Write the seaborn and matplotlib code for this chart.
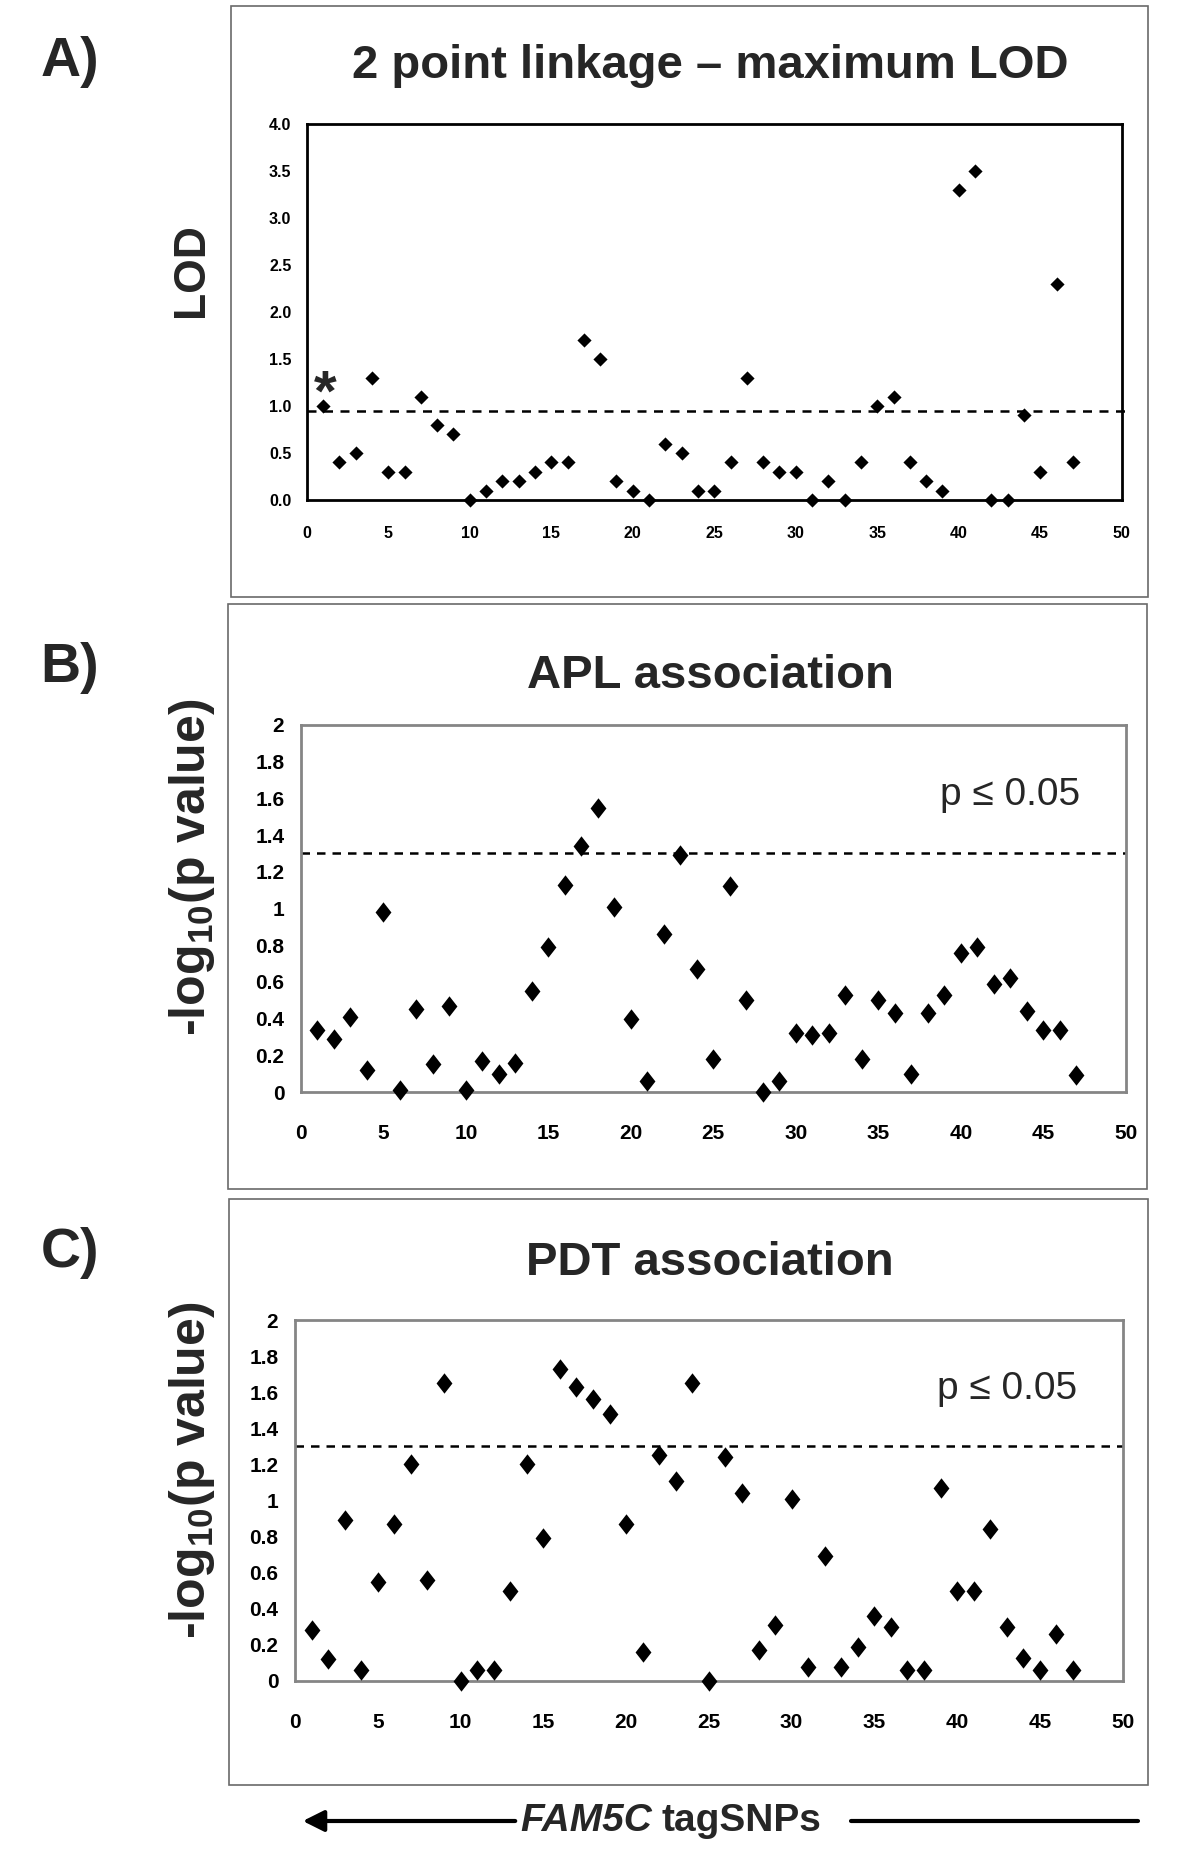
import numpy as np
import pandas as pd
import seaborn as sns
import matplotlib.pyplot as plt
from matplotlib.path import Path
from matplotlib.patches import Rectangle, FancyArrowPatch
from matplotlib.lines import Line2D
from matplotlib.ticker import MultipleLocator, FuncFormatter

# ---------------------------------------------------------------- data
snp = list(range(1, 48))

lod = [1.0, 0.4, 0.5, 1.3, 0.3, 0.3, 1.1, 0.8, 0.7, 0.0,
       0.1, 0.2, 0.2, 0.3, 0.4, 0.4, 1.7, 1.5, 0.2, 0.1,
       0.0, 0.6, 0.5, 0.1, 0.1, 0.4, 1.3, 0.4, 0.3, 0.3,
       0.0, 0.2, 0.0, 0.4, 1.0, 1.1, 0.4, 0.2, 0.1, 3.3,
       3.5, 0.0, 0.0, 0.9, 0.3, 2.3, 0.4]

apl = [0.34, 0.29, 0.41, 0.12, 0.98, 0.01, 0.45, 0.15, 0.47, 0.01,
       0.17, 0.10, 0.16, 0.55, 0.79, 1.13, 1.34, 1.55, 1.01, 0.40,
       0.06, 0.86, 1.29, 0.67, 0.18, 1.12, 0.50, 0.00, 0.06, 0.32,
       0.31, 0.32, 0.53, 0.18, 0.50, 0.43, 0.10, 0.43, 0.53, 0.76,
       0.79, 0.59, 0.62, 0.44, 0.34, 0.34, 0.09]

pdt = [0.28, 0.12, 0.89, 0.06, 0.55, 0.87, 1.20, 0.56, 1.65, 0.00,
       0.06, 0.06, 0.50, 1.20, 0.79, 1.73, 1.63, 1.56, 1.48, 0.87,
       0.16, 1.25, 1.11, 1.65, 0.00, 1.24, 1.04, 0.17, 0.31, 1.01,
       0.08, 0.69, 0.08, 0.19, 0.36, 0.30, 0.06, 0.06, 1.07, 0.50,
       0.50, 0.84, 0.30, 0.13, 0.06, 0.26, 0.06]

lod_cut = 0.95
p_cut = 1.3

panel_tags = ['A)', 'B)', 'C)']
panel_titles = ['2 point linkage \u2013 maximum LOD', 'APL association', 'PDT association']

# ---------------------------------------------------------------- style
W, H = 1200, 1859
sns.set_style("white")
plt.rcParams['font.family'] = ['Liberation Sans', 'DejaVu Sans']
plt.rcParams['font.weight'] = 'bold'
plt.rcParams['mathtext.fontset'] = 'custom'
plt.rcParams['mathtext.rm'] = 'Liberation Sans:bold'
plt.rcParams['mathtext.bf'] = 'Liberation Sans:bold'

fig = plt.figure(figsize=(W / 100, H / 100), dpi=100)


def fx(px):
    return px / W


def fy(py):
    return 1 - py / H


def box(l, t, r, b):
    return [fx(l), fy(b), (r - l) / W, (b - t) / H]


df = pd.DataFrame({'snp': snp, 'lod': lod, 'apl': apl, 'pdt': pdt})

# panel frames
for l, t, r, b in [(231, 6, 1148, 597), (228, 604, 1147, 1189), (229, 1199, 1148, 1785)]:
    fig.add_artist(Rectangle((fx(l), fy(b)), (r - l) / W, (b - t) / H, fill=False,
                             ec='#6a6a6a', lw=1.2, transform=fig.transFigure))

# ---------------------------------------------------------------- A) LOD
axA = fig.add_axes(box(306.7, 124, 1121.7, 500))
sns.scatterplot(data=df, x='snp', y='lod', ax=axA, marker='D', s=52, color='black',
                edgecolor='black', linewidth=0, clip_on=False, zorder=3)
axA.axhline(lod_cut, xmin=0, xmax=1.013, color='black', lw=1.8, ls=(0, (3.6, 3.0)), clip_on=False)
axA.set_xlim(0, 50)
axA.set_ylim(0, 4)
axA.xaxis.set_major_locator(MultipleLocator(5))
axA.yaxis.set_major_locator(MultipleLocator(0.5))
axA.yaxis.set_major_formatter(FuncFormatter(lambda v, p: f'{v:.1f}'))
for sp in axA.spines.values():
    sp.set_color('black')
    sp.set_linewidth(2)
axA.tick_params(axis='both', direction='out', length=5, width=1.3, colors='black', labelsize=11.5)
axA.tick_params(axis='x', pad=14)
axA.tick_params(axis='y', pad=6)
axA.set_xlabel('')
axA.set_ylabel('')
axA.text(1.15, 0.95, '*', ha='center', va='baseline', fontsize=42)

# ---------------------------------------------------------------- B) / C) association
diamond = Path([(0, -1), (0.78, 0), (0, 1), (-0.78, 0), (0, -1)],
               [Path.MOVETO, Path.LINETO, Path.LINETO, Path.LINETO, Path.CLOSEPOLY])

axB = fig.add_axes(box(301, 725, 1125.7, 1092))
axC = fig.add_axes(box(295, 1320, 1122.7, 1681))
for ax, col in [(axB, 'apl'), (axC, 'pdt')]:
    sns.scatterplot(data=df, x='snp', y=col, ax=ax, marker=diamond, s=215, color='black',
                    edgecolor='black', linewidth=0, clip_on=False, zorder=3)
    ax.axhline(p_cut, color='black', lw=1.8, ls=(0, (3.4, 2.8)), clip_on=False)
    ax.set_xlim(0, 50)
    ax.set_ylim(0, 2)
    ax.xaxis.set_major_locator(MultipleLocator(5))
    ax.yaxis.set_major_locator(MultipleLocator(0.2))
    ax.yaxis.set_major_formatter(FuncFormatter(lambda v, p: f'{round(v, 1):g}'))
    for sp in ax.spines.values():
        sp.set_color('#858585')
        sp.set_linewidth(2)
    ax.tick_params(axis='both', direction='out', length=5, width=1.3, colors='#707070',
                   labelcolor='black', labelsize=15)
    ax.tick_params(axis='x', pad=18)
    ax.tick_params(axis='y', pad=7)
    ax.set_xlabel('')
    ax.set_ylabel('')
    ax.text(43, 1.62, 'p \u2264 0.05', ha='center', va='center', fontsize=28,
            fontweight='normal', family=['Liberation Sans', 'DejaVu Sans'])

# ---------------------------------------------------------------- labels
for tag, ty in zip(panel_tags, [62, 668, 1253]):
    fig.text(fx(70), fy(ty), tag, ha='center', va='center', fontsize=40)
for title, ty in zip(panel_titles, [66, 676, 1263]):
    fig.text(fx(710), fy(ty), title, ha='center', va='center', fontsize=34)

fig.text(fx(191), fy(270), 'LOD', rotation=90, ha='center', va='center', fontsize=32)
ylab = r'-log$_{\mathbf{10}}$(p value)'
fig.text(fx(192), fy(867), ylab, rotation=90, ha='center', va='center', fontsize=36)
fig.text(fx(192), fy(1470), ylab, rotation=90, ha='center', va='center', fontsize=36)

# bottom arrow
fig.add_artist(FancyArrowPatch((fx(518), fy(1821)), (fx(300), fy(1821)), transform=fig.transFigure,
                               arrowstyle='-|>', mutation_scale=32, lw=3, color='black'))
fig.add_artist(Line2D([fx(851), fx(1138)], [fy(1821), fy(1821)], transform=fig.transFigure,
                      color='black', lw=3))
fig.text(fx(652), fy(1821), 'FAM5C', style='italic', ha='right', va='center', fontsize=28)
fig.text(fx(662), fy(1821), 'tagSNPs', ha='left', va='center', fontsize=28)

fig.savefig('out.png', dpi=100, facecolor='white')
